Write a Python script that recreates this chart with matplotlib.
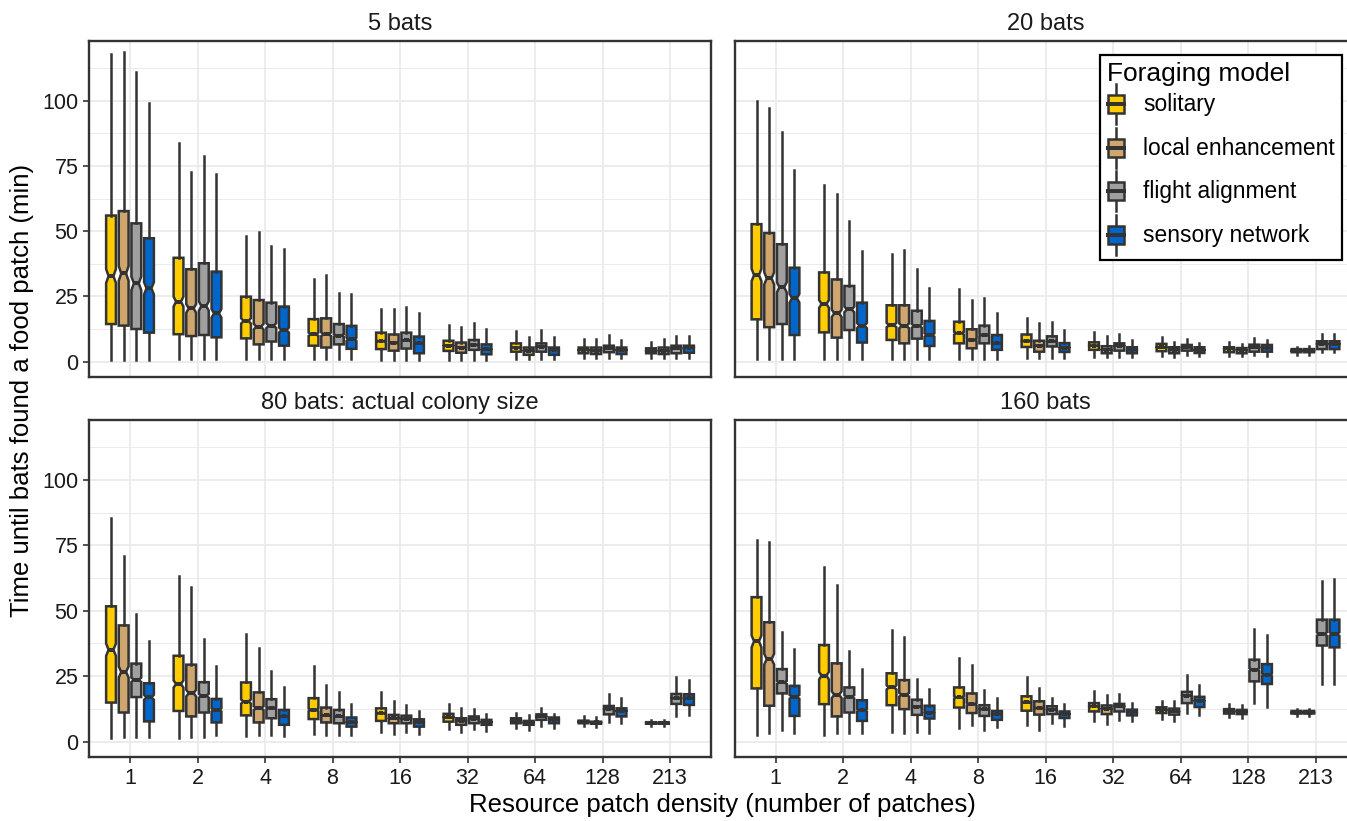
import numpy as np
import matplotlib.pyplot as plt
from matplotlib.legend_handler import HandlerBase
from matplotlib.patches import Rectangle
from matplotlib.lines import Line2D

plt.rcParams['font.family'] = ['Liberation Sans', 'DejaVu Sans']

DENSITY = ['1', '2', '4', '8', '16', '32', '64', '128', '213']
MODELS = ['solitary', 'local enhancement', 'flight alignment', 'sensory network']
COLORS = ['#FFCC00', '#CFA76E', '#A0A0A0', '#0066CC']
PANEL_TITLES = ['5 bats', '20 bats', '80 bats: actual colony size', '160 bats']
N_RUNS = 600  # runs per box, only used for the notch size

# rows = patch density, columns = foraging model
BATS5_HI = [[118, 118.6, 111, 99], [83.7, 72.8, 79, 71.8], [48.3, 49.6, 44.4, 43],
            [31.5, 33.2, 26.4, 25.9], [20.3, 20, 20.8, 18.5], [14, 13.4, 14.7, 12.4],
            [11.7, 9.6, 12.1, 9.6], [8.6, 8.6, 10.2, 8.3], [7.7, 8.6, 9.8, 9.8]]
BATS5_Q3 = [[56, 57.7, 53, 47.3], [39.8, 35.4, 37.7, 34.5], [24.9, 23.6, 22.6, 21.1],
            [16.3, 16.6, 14.4, 13.7], [11.1, 10.4, 11.1, 9.6], [8, 7.3, 8.3, 6.6],
            [7, 5.4, 7, 5.4], [5.4, 5.4, 6.1, 5.4], [5.1, 5.4, 6.1, 6.1]]
BATS5_MED = [[32.8, 33.8, 30, 28.1], [23, 20.4, 21.3, 18.5], [15.6, 13.4, 13.8, 12.1],
             [10.5, 10.5, 10, 8.6], [7.8, 7.2, 8.1, 7], [6.1, 5.4, 6.4, 4.7],
             [5.4, 4.2, 5.7, 4.5], [4.5, 4.2, 5.1, 4.5], [4.1, 4.2, 5.1, 5.4]]
BATS5_Q1 = [[14.4, 13.8, 12.5, 11.1], [10.5, 9.8, 10.2, 9.3], [8.9, 6.6, 7.7, 6.1],
            [6.1, 5.4, 6.6, 4.9], [4.8, 4.2, 5, 3.2], [4.1, 3.4, 4.5, 2.8],
            [3.8, 2.6, 3.8, 2.6], [3.2, 2.9, 3.6, 2.9], [3.2, 2.9, 3.2, 3.4]]
BATS5_LO = [[0.5, 0.5, 0.5, 0.5], [1, 1, 1, 1], [1, 1, 1, 1],
            [1, 1, 1, 1], [0.8, 0.8, 0.8, 0.8], [0.8, 0.8, 0.8, 0.8],
            [1, 1, 1, 1], [1.3, 1.3, 1.3, 1.3], [1.2, 1.2, 1.2, 1.2]]

BATS20_HI = [[100, 97.3, 87.9, 73.6], [67.6, 64.1, 54, 42.5], [41.3, 42.9, 35.6, 28.1],
             [28, 23.6, 24.3, 18.5], [16.8, 14.9, 15.3, 12.1], [11.2, 9.7, 10.6, 8.4],
             [9.3, 7.4, 8.7, 7], [7.4, 6.8, 8.9, 8.4], [5.7, 5.9, 10.6, 10.6]]
BATS20_Q3 = [[52.7, 49.3, 45, 36], [34.2, 31.5, 29, 22.6], [21.6, 21.6, 19.5, 15.6],
             [15.3, 12.4, 13.8, 10.2], [10.4, 8, 9.7, 7.1], [7.4, 5.9, 7, 5.5],
             [6.8, 5.5, 6.4, 5.5], [5.5, 5.2, 6.5, 6.4], [4.8, 4.8, 7.8, 7.8]]
BATS20_MED = [[33.2, 31.9, 28.5, 24.3], [22.1, 18.5, 20, 13.8], [14, 13.7, 13.7, 10.2],
              [10.9, 8.3, 10.2, 7], [7.9, 6.1, 7.8, 5.4], [6.1, 4.6, 6.1, 4.5],
              [5.5, 4.5, 5.5, 4.5], [4.9, 4.5, 5.5, 5.2], [4.2, 4.2, 6.8, 6.8]]
BATS20_Q1 = [[16.2, 13.2, 14.4, 10.2], [11.2, 9.2, 12.1, 7.3], [8.3, 7, 8.8, 6],
             [7, 5.1, 7, 4.5], [5.6, 3.8, 5.8, 3.7], [4.5, 3.2, 4.2, 3.2],
             [4, 3.2, 4.2, 3.3], [3.6, 3.2, 3.8, 3.8], [3.6, 3.6, 4.8, 4.8]]
BATS20_LO = [[0.9, 0.9, 0.9, 0.9], [0.9, 0.9, 0.9, 0.9], [0.9, 0.9, 0.9, 0.9],
             [0.9, 0.9, 0.9, 0.9], [1.3, 1.3, 1.3, 1.3], [1.7, 1.7, 1.7, 1.7],
             [2.3, 1.9, 2.6, 2], [2.3, 2, 2.5, 2.3], [2.7, 2.7, 3.6, 3.6]]

BATS80_HI = [[85.3, 71.1, 48.9, 38.6], [63.2, 59.1, 39.2, 29], [41.3, 35.8, 26.8, 20.8],
             [28.7, 21.7, 18.9, 14.3], [18.9, 15.5, 13.8, 11.7], [14.4, 12.7, 12.4, 10.6],
             [11.1, 10.2, 12.7, 10.6], [9.6, 9.3, 18.2, 16.8], [8.3, 8.3, 24.6, 23.6]]
BATS80_Q3 = [[51.7, 44.4, 29.8, 22.3], [32.8, 29.4, 22.7, 16.3], [22.6, 18.8, 16.2, 12.1],
             [16.6, 13, 12.1, 9.2], [12.7, 10.2, 9.9, 8.5], [10.6, 8.9, 9.6, 8.3],
             [8.9, 7.9, 10.4, 9.2], [8, 7.6, 13.6, 12.7], [7.4, 7.4, 18.2, 18.1]]
BATS80_MED = [[35.1, 26.6, 23.6, 16.9], [22, 18.5, 17.5, 12.1], [15.3, 12.8, 12.8, 9.6],
              [12.1, 10, 9.6, 7.4], [10.8, 8.9, 8.7, 7.4], [9.3, 7.9, 8.7, 7.4],
              [8, 7.3, 9.6, 8.3], [7.6, 7.3, 12.5, 11.7], [7, 7, 16.6, 16.6]]
BATS80_Q1 = [[14.9, 11.1, 17, 7.7], [11.7, 9.6, 11.1, 7.3], [10, 7.3, 8.9, 6.4],
             [8.6, 7.3, 7, 5.7], [7.9, 7, 7, 5.7], [7.6, 6.4, 7, 6.4],
             [7, 6.4, 8.3, 7], [7, 6.8, 10.4, 9.6], [6.8, 6.8, 14.4, 14]]
BATS80_LO = [[1.5, 1.9, 1.9, 1.9], [1.5, 1.9, 1.9, 2.6], [2.2, 2.6, 2.6, 2.3],
             [2.9, 2.6, 2.6, 2.6], [3.8, 2.8, 3.6, 2.8], [4.8, 3.8, 4.8, 4.2],
             [5.1, 4.5, 6, 5.1], [6.1, 5.7, 7.6, 7], [6.1, 6.1, 9.8, 10.2]]

BATS160_HI = [[77.1, 76.2, 41.8, 35.4], [66.9, 59.9, 34.5, 27.7], [42.7, 40.1, 23.9, 20.1],
              [31.8, 29.2, 19.7, 16.6], [24.6, 20.5, 16.7, 14.4], [19.2, 17.9, 18.2, 14.7],
              [15.6, 15.4, 25.3, 21.8], [14.3, 13.9, 43, 40.7], [12.4, 12.4, 61.2, 62.2]]
BATS160_Q3 = [[55.2, 45.6, 27.7, 21.3], [36.9, 29.9, 20.7, 15.8], [26.1, 23.5, 16, 13.7],
              [20.7, 18.4, 13.9, 11.7], [17.3, 15.4, 13.5, 11.5], [14.7, 13.8, 14.4, 12.2],
              [13.1, 12.6, 19, 17.1], [12.4, 12.1, 31.3, 29.6], [11.7, 11.7, 46.6, 46.6]]
BATS160_MED = [[38.3, 31.5, 22.6, 17.1], [25.2, 17.9, 17.1, 12], [20.7, 17.9, 13.3, 11.1],
               [16.9, 14.3, 12.4, 10.5], [15, 12.8, 12.2, 10.6], [13.5, 12.6, 13.5, 11.3],
               [12.2, 11.5, 17.6, 15.6], [11.7, 11.5, 27.5, 25.5], [11.1, 11.1, 41.1, 41.1]]
BATS160_Q1 = [[20.3, 13.7, 18.4, 9.8], [14.3, 9.6, 11.1, 7.9], [13.9, 12.4, 10.2, 8.8],
              [13, 10.9, 9.8, 8.3], [11.8, 10.3, 10.5, 9], [11.5, 10.5, 11.5, 10],
              [10.9, 10.3, 14.7, 13.2], [10.7, 10.5, 23, 22], [10.7, 10.7, 36.7, 36]]
BATS160_LO = [[2.6, 3.1, 4.3, 3.1], [2.6, 3.1, 3.1, 3.1], [3.8, 3.2, 3.5, 3.2],
              [5.1, 6.3, 4.3, 5.6], [6.2, 4.5, 7, 5.8], [7.9, 6.7, 8.3, 7.7],
              [8.6, 7.9, 10.9, 10.3], [9.2, 8.9, 14.6, 13.4], [9.8, 9.8, 22, 22]]

PANELS = [
    (BATS5_HI, BATS5_Q3, BATS5_MED, BATS5_Q1, BATS5_LO),
    (BATS20_HI, BATS20_Q3, BATS20_MED, BATS20_Q1, BATS20_LO),
    (BATS80_HI, BATS80_Q3, BATS80_MED, BATS80_Q1, BATS80_LO),
    (BATS160_HI, BATS160_Q3, BATS160_MED, BATS160_Q1, BATS160_LO),
]

EDGE = '#333333'
LW = 1.8
W, H = 1347, 821


class BoxKey(HandlerBase):
    # little ggplot-like boxplot glyph for the legend
    def create_artists(self, legend, orig_handle, xdescent, ydescent,
                       width, height, fontsize, trans):
        cx = width / 2 - xdescent
        y0 = -ydescent
        whisk = Line2D([cx, cx], [y0 - 0.05 * height, y0 + 1.05 * height],
                       color=EDGE, lw=LW, transform=trans)
        box = Rectangle((cx - 0.45 * width, y0 + 0.25 * height), 0.9 * width, 0.5 * height,
                        facecolor=orig_handle.get_facecolor(), edgecolor=EDGE,
                        lw=LW, transform=trans)
        med = Line2D([cx - 0.45 * width, cx + 0.45 * width], [y0 + 0.5 * height] * 2,
                     color=EDGE, lw=LW * 1.6, transform=trans)
        return [whisk, box, med]


def px_rect(x0, y0, x1, y1):
    return [x0 / W, 1 - y1 / H, (x1 - x0) / W, (y1 - y0) / H]


fig = plt.figure(figsize=(W / 100, H / 100), dpi=100)
rects = [px_rect(89.5, 41, 710.5, 377), px_rect(735, 41, 1356, 377),
         px_rect(89.5, 420, 710.5, 757), px_rect(735, 420, 1356, 757)]
axes = [fig.add_axes(r) for r in rects]

x = np.arange(1, len(DENSITY) + 1)
for k, (ax, title, data) in enumerate(zip(axes, PANEL_TITLES, PANELS)):
    hi, q3, med, q1, lo = data
    for j, color in enumerate(COLORS):
        stats = []
        for i in range(len(DENSITY)):
            half = 1.58 * (q3[i][j] - q1[i][j]) / np.sqrt(N_RUNS)
            stats.append(dict(med=med[i][j], q1=q1[i][j], q3=q3[i][j],
                              whislo=lo[i][j], whishi=hi[i][j],
                              cilo=med[i][j] - half, cihi=med[i][j] + half, fliers=[]))
        ax.bxp(stats, positions=x + (j - 1.5) * 0.1875, widths=0.145,
               shownotches=True, patch_artist=True, showcaps=False, showfliers=False,
               boxprops=dict(facecolor=color, edgecolor=EDGE, linewidth=LW),
               whiskerprops=dict(color=EDGE, linewidth=LW),
               medianprops=dict(color=EDGE, linewidth=LW * 1.6))

    ax.set_xlim(0.4, 9.6)
    ax.set_ylim(-5.9, 122.9)
    ax.set_yticks([0, 25, 50, 75, 100])
    ax.set_yticks(np.arange(12.5, 122, 25), minor=True)
    ax.set_xticks(x)
    ax.set_xticklabels(DENSITY)
    ax.set_axisbelow(True)
    ax.grid(True, which='major', color='#EBEBEB', lw=1.3)
    ax.grid(True, which='minor', axis='y', color='#EBEBEB', lw=0.7)
    for s in ax.spines.values():
        s.set_color(EDGE)
        s.set_linewidth(1.7)
    ax.tick_params(which='major', direction='out', length=4, width=1.2, color=EDGE,
                   labelsize=15.5, labelcolor='#1A1A1A', pad=4)
    ax.tick_params(which='minor', length=0)
    if k in (1, 3):
        ax.tick_params(axis='y', left=False, labelleft=False)
    if k in (0, 1):
        ax.tick_params(axis='x', bottom=False, labelbottom=False)
    ax.set_title(title, fontsize=17, pad=8, color='#1A1A1A')

handles = [Rectangle((0, 0), 1, 1, facecolor=c) for c in COLORS]
leg = axes[1].legend(handles, MODELS, handler_map={Rectangle: BoxKey()},
                     title='Foraging model', loc='upper right',
                     bbox_to_anchor=(1342 / W, 1 - 55 / H), bbox_transform=fig.transFigure,
                     borderaxespad=0, fancybox=False, edgecolor='black', framealpha=1,
                     fontsize=16.4, title_fontsize=19, handlelength=0.8, handleheight=2.1,
                     labelspacing=0.3, handletextpad=0.8, borderpad=0.3, alignment='left')
leg.get_frame().set_linewidth(1.6)
leg._legend_box.sep = 0  # tighter gap under the legend title

fig.text(22 / W, 1 - 390 / H, 'Time until bats found a food patch (min)', rotation=90,
         ha='center', va='center', fontsize=18.5)
fig.text(722 / W, 1 - 805 / H, 'Resource patch density (number of patches)',
         ha='center', va='center', fontsize=18.5)

fig.savefig('out.png', dpi=100)
